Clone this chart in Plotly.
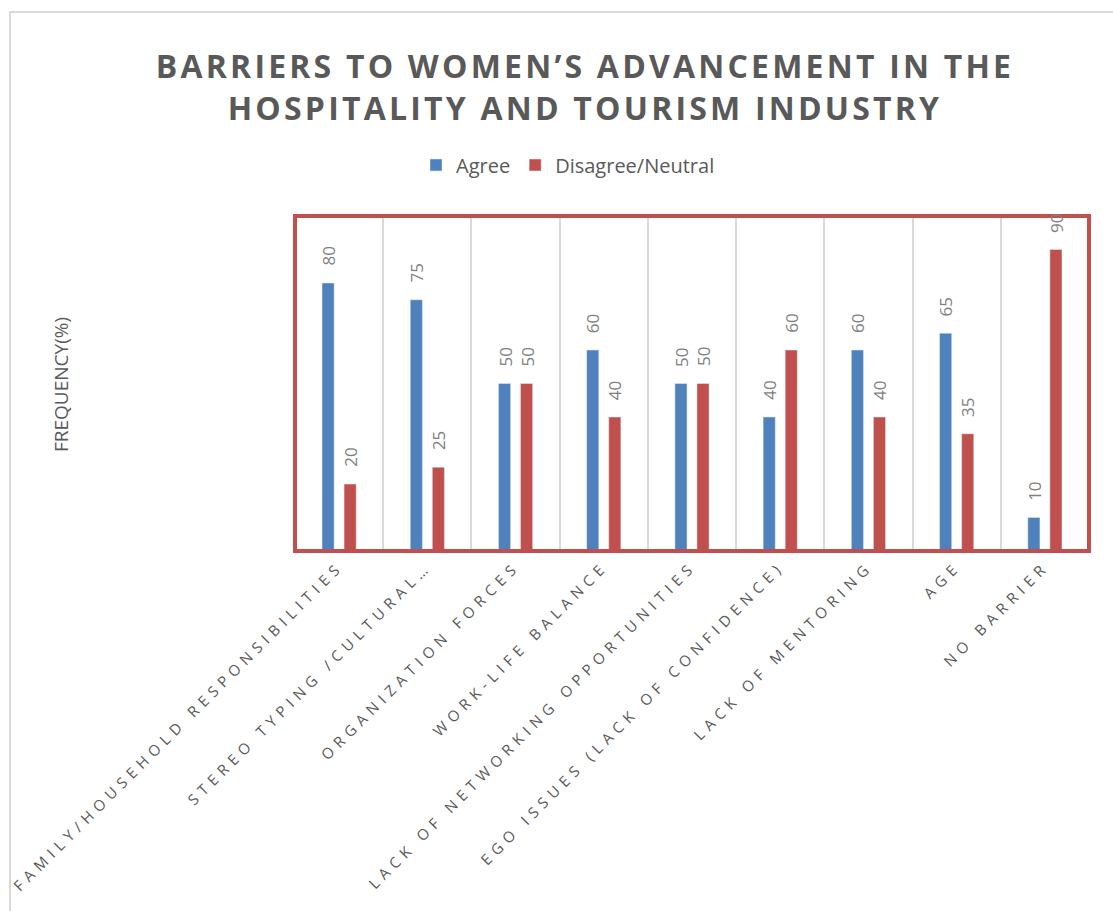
import plotly.graph_objects as go

categories = [
    "FAMILY/HOUSEHOLD RESPONSIBILITIES",
    "STEREO TYPING /CULTURAL…",
    "ORGANIZATION FORCES",
    "WORK-LIFE BALANCE",
    "LACK OF NETWORKING OPPORTUNITIES",
    "EGO ISSUES (LACK OF CONFIDENCE)",
    "LACK OF MENTORING",
    "AGE",
    "NO BARRIER",
]
agree = [80, 75, 50, 60, 50, 40, 60, 65, 10]
disagree = [20, 25, 50, 40, 50, 60, 40, 35, 90]
series_names = ["Agree", "Disagree/Neutral"]
title_lines = ["BARRIERS TO WOMEN’S ADVANCEMENT IN THE", "HOSPITALITY AND TOURISM INDUSTRY"]
y_title = "FREQUENCY(%)"

BLUE = "#4F81BD"
RED = "#C0504D"
TXT = "#595959"
LBL = "#7F7F7F"
FONT = "Open Sans"

W, H = 1113, 911
ML, MR, MT, MB = 295, 24, 216, 360
PW = W - ML - MR
PH = H - MT - MB


def px_x(p):
    return (p - ML) / PW


def px_y(p):
    return (H - MB - p) / PH


def spaced(s, ls):
    return f'<span style="letter-spacing:{ls}px">{s}</span>'


fig = go.Figure()
fig.add_trace(go.Bar(name=series_names[0], x=categories, y=agree, marker_color=BLUE))
fig.add_trace(go.Bar(name=series_names[1], x=categories, y=disagree, marker_color=RED))

annotations = []
for i in range(len(categories)):
    for vals, off in ((agree, -0.125), (disagree, 0.125)):
        annotations.append(dict(
            x=i + off, y=vals[i], xref="x", yref="y", text=str(vals[i]),
            textangle=-90, showarrow=False, yanchor="bottom", xanchor="center",
            yshift=15, font=dict(family=FONT, size=17, color=LBL),
        ))

annotations.append(dict(
    x=px_x(61), y=px_y(385), xref="paper", yref="paper", text=y_title,
    textangle=-90, showarrow=False, xanchor="center", yanchor="middle",
    font=dict(family=FONT, size=19, color=TXT),
))

fig.update_layout(
    width=W, height=H,
    margin=dict(l=ML, r=MR, t=MT, b=MB, autoexpand=False),
    paper_bgcolor="white", plot_bgcolor="white",
    barmode="group", bargap=0.5, bargroupgap=0.45,
    title=dict(
        text=spaced(title_lines[0] + "<br>" + title_lines[1], 3.2),
        x=px_x(585), xref="paper", xanchor="center",
        y=1 - 78 / H, yref="container", yanchor="middle",
        font=dict(family=FONT, size=32, color=TXT, weight="bold"),
    ),
    legend=dict(
        orientation="h", x=px_x(568), xanchor="center", y=px_y(165), yanchor="middle",
        font=dict(family=FONT, size=20, color=TXT), bgcolor="rgba(0,0,0,0)",
    ),
    xaxis=dict(
        type="category", tickson="boundaries", showgrid=True, gridcolor="#D9D9D9", gridwidth=1.5,
        tickvals=categories, ticktext=[spaced(c, 5.5) for c in categories],
        tickangle=-45, tickfont=dict(family=FONT, size=15, color=TXT),
        ticks="outside", ticklen=23, tickcolor="rgba(0,0,0,0)",
        showline=True, linecolor="#D9D9D9", linewidth=1, automargin=False,
    ),
    yaxis=dict(range=[0, 100], showticklabels=False, showgrid=False, zeroline=False, automargin=False),
    annotations=annotations,
    shapes=[
        dict(type="rect", xref="paper", yref="paper", x0=px_x(10), y0=px_y(960), x1=px_x(1200), y1=px_y(12),
             line=dict(color="#D9D9D9", width=2), layer="below"),
        dict(type="rect", xref="paper", yref="paper", x0=0, y0=0, x1=1, y1=1,
             line=dict(color=RED, width=4), layer="above"),
    ],
)

fig.write_html("out.html", config={"displayModeBar": False},
               post_script="document.body.style.margin='0';")
